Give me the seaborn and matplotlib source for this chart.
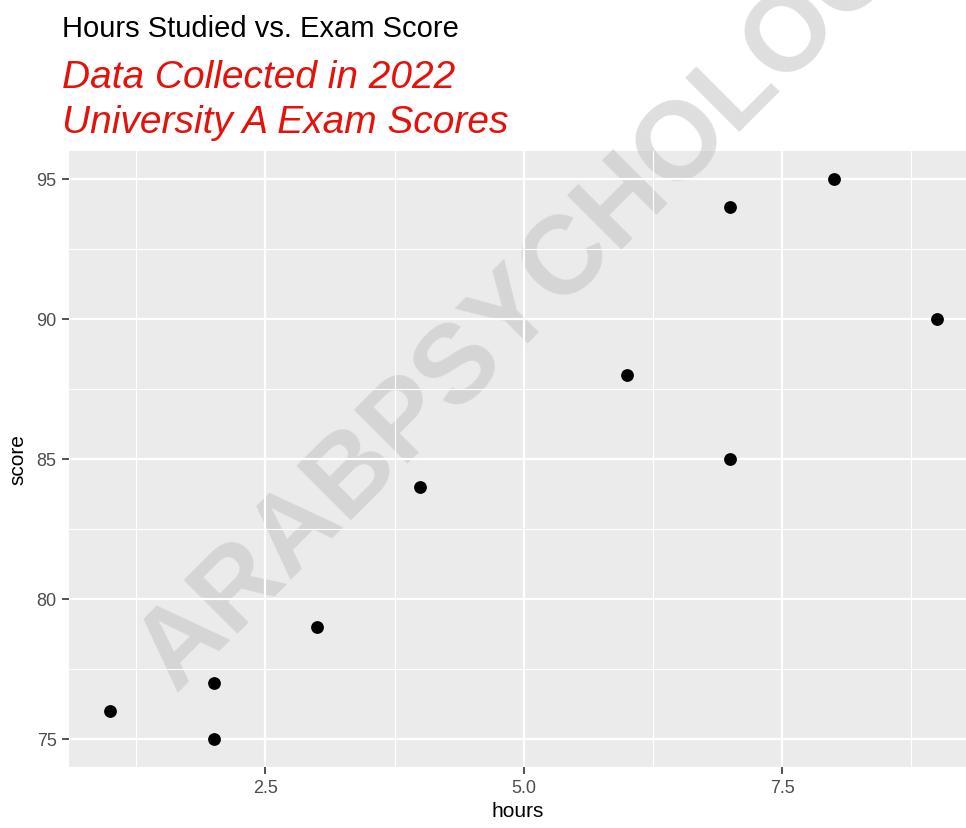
import matplotlib
matplotlib.use("Agg")
import matplotlib.pyplot as plt
import seaborn as sns
import pandas as pd

hours = [1, 2, 2, 3, 4, 6, 7, 7, 8, 9]
score = [76, 77, 75, 79, 84, 88, 94, 85, 95, 90]
x_ticks = [2.5, 5.0, 7.5]
x_tick_labels = ["2.5", "5.0", "7.5"]
y_ticks = [75, 80, 85, 90, 95]
title = "Hours Studied vs. Exam Score"
subtitle_lines = ["Data Collected in 2022", "University A Exam Scores"]
watermark = "ARABPSYCHOLOGY"

df = pd.DataFrame({"hours": hours, "score": score})

sns.set_theme(style="darkgrid", rc={
    "axes.facecolor": "#ebebeb",
    "grid.color": "white",
})
plt.rcParams["font.family"] = ["Liberation Sans", "DejaVu Sans"]

W, H = 966, 829
fig = plt.figure(figsize=(W / 100, H / 100), dpi=100)
ax = fig.add_axes([69 / W, 1 - 768 / H, 1 - 69 / W, (768 - 152) / H])

# minor grid lines
for xm in [1.25, 3.75, 6.25, 8.75]:
    ax.axvline(xm, color="white", lw=0.8, zorder=0.5)
for ym in [77.5, 82.5, 87.5, 92.5]:
    ax.axhline(ym, color="white", lw=0.8, zorder=0.5)

sns.scatterplot(data=df, x="hours", y="score", ax=ax, color="black",
                s=85, edgecolor="black", linewidth=0, zorder=3)

ax.set_xlim(0.6, 9.28)
ax.set_ylim(74, 96)
ax.set_xticks(x_ticks)
ax.set_xticklabels(x_tick_labels)
ax.set_yticks(y_ticks)
ax.grid(True, color="white", lw=1.6)
ax.set_axisbelow(True)
for s in ax.spines.values():
    s.set_visible(False)
ax.tick_params(axis="both", length=5, width=1.2, color="#333333",
               labelcolor="#4d4d4d", labelsize=13, pad=4, bottom=True, left=True)
ax.set_xlabel("hours", fontsize=15, color="black", labelpad=3)
ax.set_ylabel("score", fontsize=15, color="black", labelpad=6)

fig.text(62 / W, 1 - 37 / H, title, fontsize=21, color="black",
         ha="left", va="baseline")
for line, base in zip(subtitle_lines, [88, 133]):
    fig.text(62 / W, 1 - base / H, line, fontsize=28, color="#e3120b",
             style="italic", ha="left", va="baseline")

# watermark (behind grid and points)
ax.text(546 / W, 1 - 282 / H, watermark, transform=fig.transFigure,
        fontsize=80, fontweight="bold", color="#c4c4c4", alpha=0.55,
        rotation=45, rotation_mode="anchor", ha="center", va="center",
        zorder=0.2, clip_on=False)

fig.savefig("out.png", dpi=100)
